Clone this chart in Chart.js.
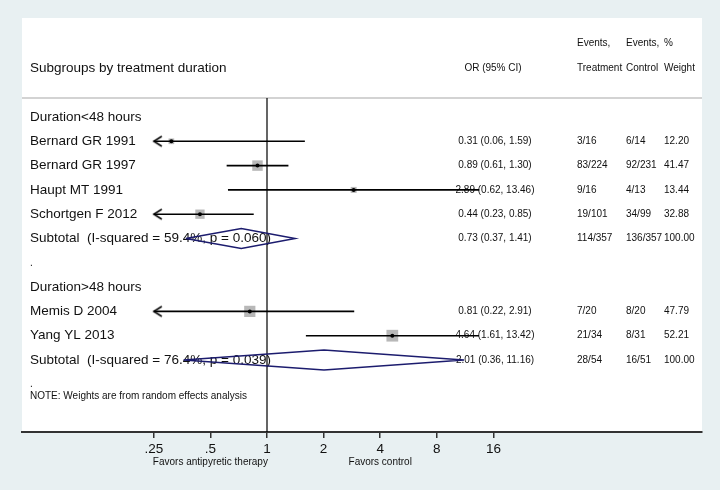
<!DOCTYPE html>
<html>
<head>
<meta charset="utf-8">
<script src="https://cdn.jsdelivr.net/npm/chart.js@4.4.1/dist/chart.umd.min.js"></script>
<style>
  html, body { margin: 0; padding: 0; background: #e8f0f2; }
  canvas { display: block; }
</style>
</head>
<body>
<canvas id="c" width="720" height="490"></canvas>
<script>
// ---------- data ----------
const groupHeaders = ["Duration<48 hours", "Duration>48 hours"];
const groupRows = [0, 7];

const studies = ["Bernard GR 1991", "Bernard GR 1997", "Haupt MT 1991", "Schortgen F 2012", "Memis D 2004", "Yang YL 2013"];
const studyRows = [1, 2, 3, 4, 8, 9];
const studyOR = [0.31, 0.89, 2.89, 0.44, 0.81, 4.64];
const studyLo = [0.06, 0.61, 0.62, 0.23, 0.22, 1.61];
const studyHi = [1.59, 1.30, 13.46, 0.85, 2.91, 13.42];
const studyEvT = ["3/16", "83/224", "9/16", "19/101", "7/20", "21/34"];
const studyEvC = ["6/14", "92/231", "4/13", "34/99", "8/20", "8/31"];
const studyWeight = [12.20, 41.47, 13.44, 32.88, 47.79, 52.21];

const subtotalLabels = ["Subtotal  (I-squared = 59.4%, p = 0.060)", "Subtotal  (I-squared = 76.4%, p = 0.039)"];
const subtotalRows = [5, 10];
const subtotalOR = [0.73, 2.01];
const subtotalLo = [0.37, 0.36];
const subtotalHi = [1.41, 11.16];
const subtotalEvT = ["114/357", "28/54"];
const subtotalEvC = ["136/357", "16/51"];
const subtotalWeight = [100.00, 100.00];

const spacerRows = [6, 11];
const noteText = "NOTE: Weights are from random effects analysis";

const tickValues = [0.25, 0.5, 1, 2, 4, 8, 16];
const tickLabels = [".25", ".5", "1", "2", "4", "8", "16"];
const favorLabels = ["Favors antipyretic therapy", "Favors control"];
const favorAt = [0.5, 4];

const headerTitle = "Subgroups by treatment duration";
const headerOR = "OR (95% CI)";
const headerTop = ["Events,", "Events,", "%"];
const headerBottom = ["Treatment", "Control", "Weight"];

// ---------- helpers ----------
const L = Math.log2;
const clipLo = tickValues[0], clipHi = tickValues[tickValues.length - 1];
const fmt = (o, l, h) => o.toFixed(2) + " (" + l.toFixed(2) + ", " + h.toFixed(2) + ")";

const FONT = "'Liberation Sans', Arial, sans-serif";
const BG = "#e8f0f2";
const NAVY = "#1c1c6e";

// arrow head image (tip at image centre)
const arrowImg = document.createElement('canvas');
arrowImg.width = 24; arrowImg.height = 14;
(function () {
  const g = arrowImg.getContext('2d');
  g.strokeStyle = '#000'; g.lineWidth = 1.5;
  g.beginPath(); g.moveTo(20, 2); g.lineTo(12, 7); g.lineTo(20, 12); g.stroke();
})();

const datasets = [];

// dots (top)
datasets.push({
  data: studyOR.map((v, i) => ({ x: L(v), y: studyRows[i] })),
  pointStyle: 'circle', pointRadius: 2, backgroundColor: '#000', borderColor: '#000', borderWidth: 0,
  order: 0
});
// arrows where CI extends beyond the axis
const arrowPts = [];
studyLo.forEach((v, i) => { if (v < clipLo) arrowPts.push({ x: L(clipLo), y: studyRows[i] }); });
datasets.push({ data: arrowPts, pointStyle: arrowImg, pointRadius: 6, order: 1 });

// CI lines
studyOR.forEach((v, i) => {
  datasets.push({
    data: [{ x: L(Math.max(studyLo[i], clipLo)), y: studyRows[i] }, { x: L(Math.min(studyHi[i], clipHi)), y: studyRows[i] }],
    showLine: true, borderColor: '#000', borderWidth: 1.6, pointRadius: 0, order: 1
  });
});

// weight squares
datasets.push({
  data: studyOR.map((v, i) => ({ x: L(v), y: studyRows[i] })),
  pointStyle: 'rect', pointRadius: studyWeight.map(w => 1.15 * Math.sqrt(w)),
  backgroundColor: '#b8b8b8', borderWidth: 0, order: 2
});

// subtotal diamonds
const dh = 0.41;
subtotalOR.forEach((v, i) => {
  const r = subtotalRows[i];
  datasets.push({
    data: [
      { x: L(subtotalLo[i]), y: r }, { x: L(v), y: r - dh }, { x: L(subtotalHi[i]), y: r },
      { x: L(v), y: r + dh }, { x: L(subtotalLo[i]), y: r }
    ],
    showLine: true, borderColor: NAVY, borderWidth: 1.5, pointRadius: 0, fill: false, tension: 0, order: 1
  });
});

// null line
datasets.push({
  data: [{ x: 0, y: -0.78 }, { x: 0, y: 12.963 }],
  showLine: true, borderColor: '#000', borderWidth: 1.2, pointRadius: 0, order: 3
});

const bgPlugin = {
  id: 'bg',
  beforeDraw(chart) {
    const { ctx, chartArea: a } = chart;
    ctx.save();
    ctx.fillStyle = BG; ctx.fillRect(0, 0, chart.width, chart.height);
    ctx.fillStyle = '#fff'; ctx.fillRect(a.left, a.top, a.right - a.left, a.bottom - a.top);
    const y = chart.scales.y.getPixelForValue(-0.78);
    ctx.strokeStyle = '#c4c4c4'; ctx.lineWidth = 1.5;
    ctx.beginPath(); ctx.moveTo(a.left, y); ctx.lineTo(a.right, y); ctx.stroke();
    ctx.restore();
  },
  beforeDatasetsDraw(chart) {
    const { ctx } = chart;
    const ys = chart.scales.y, xs = chart.scales.x;
    const X_LAB = 30, X_OR = 495, X_T = 577, X_C = 626, X_W = 664;
    ctx.save();
    ctx.fillStyle = '#111';
    ctx.textBaseline = 'middle';
    const big = "13.5px " + FONT, small = "10px " + FONT;
    const txt = (s, x, row, font, align) => {
      ctx.font = font; ctx.textAlign = align || 'left';
      ctx.fillText(s, x, ys.getPixelForValue(row));
    };
    // header
    txt(headerTitle, X_LAB, -2.016, big);
    txt(headerOR, 493, -2.016, small, 'center');
    [X_T, X_C, X_W].forEach((x, i) => { txt(headerTop[i], x, -3.05, small); txt(headerBottom[i], x, -2.016, small); });
    // groups
    groupHeaders.forEach((s, i) => txt(s, X_LAB, groupRows[i], big));
    studies.forEach((s, i) => {
      const r = studyRows[i];
      txt(s, X_LAB, r, big);
      txt(fmt(studyOR[i], studyLo[i], studyHi[i]), X_OR, r, small, 'center');
      txt(studyEvT[i], X_T, r, small);
      txt(studyEvC[i], X_C, r, small);
      txt(studyWeight[i].toFixed(2), X_W, r, small);
    });
    subtotalLabels.forEach((s, i) => {
      const r = subtotalRows[i];
      txt(s, X_LAB, r, big);
      txt(fmt(subtotalOR[i], subtotalLo[i], subtotalHi[i]), X_OR, r, small, 'center');
      txt(subtotalEvT[i], X_T, r, small);
      txt(subtotalEvC[i], X_C, r, small);
      txt(subtotalWeight[i].toFixed(2), X_W, r, small);
    });
    spacerRows.forEach(r => txt(".", X_LAB, r, small));
    txt(noteText, X_LAB, 11.48, small);
    // favors labels
    ctx.font = small; ctx.textAlign = 'center';
    favorLabels.forEach((s, i) => ctx.fillText(s, xs.getPixelForValue(L(favorAt[i])), 462));
    ctx.restore();
  }
};

new Chart(document.getElementById('c'), {
  type: 'scatter',
  data: { datasets },
  plugins: [bgPlugin],
  options: {
    responsive: false,
    animation: false,
    events: [],
    layout: { padding: { left: 22, right: 18, top: 18, bottom: 0 } },
    plugins: { legend: { display: false }, tooltip: { enabled: false } },
    scales: {
      x: {
        type: 'linear',
        min: -4.3286, max: 7.6855,
        afterBuildTicks(scale) { scale.ticks = tickValues.map(v => ({ value: L(v) })); },
        afterFit(scale) { scale.height = 58; },
        ticks: {
          callback: (val, idx) => tickLabels[idx],
          font: { family: FONT, size: 13.5 }, color: '#111', padding: 3, maxRotation: 0, autoSkip: false
        },
        grid: { drawOnChartArea: false, drawTicks: true, tickLength: 6, color: '#333', lineWidth: 1.5 },
        border: { display: true, color: '#333', width: 2 }
      },
      y: {
        type: 'linear', reverse: true, min: -4.074, max: 12.963, display: false
      }
    }
  }
});
</script>
</body>
</html>
